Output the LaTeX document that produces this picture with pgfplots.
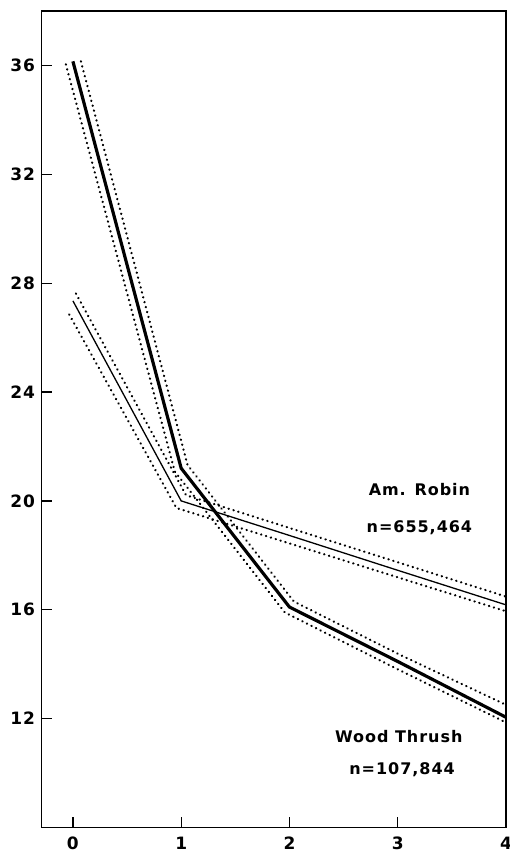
\documentclass[border=0pt]{standalone}
\usepackage{pgfplots}
\pgfplotsset{compat=1.18}
\usepackage{fontspec}
\newfontfamily\lbl[LetterSpace=6]{DejaVu Sans}

\begin{document}
\begin{tikzpicture}
\begin{axis}[
    name=ax,
    scale only axis,
    width=464.5bp, height=816.5bp,
    xmin=-0.29, xmax=4,
    ymin=8, ymax=38,
    xtick={0,1,2,3,4},
    ytick={12,16,20,24,28,32,36},
    xtick pos=left, ytick pos=left,
    tick align=inside,
    major tick length=10bp,
    tick style={line width=1.3pt, black},
    axis line style={line width=1.6pt},
    /pgf/number format/assume math mode=true,
    ticklabel style={font={\fontsize{17bp}{19bp}\selectfont\lbl\bfseries}},
    yticklabel style={xshift=-3bp},
    xticklabel style={yshift=-6bp},
    band/.style={line width=2.3pt, dash pattern=on 0.3pt off 4.8pt, line cap=round},
]
% Wood Thrush confidence band
\addplot[band] coordinates {(0.074,36.15) (1.059,21.32) (2.042,16.30) (3.029,14.33) (4.03,12.45)};
\addplot[band] coordinates {(-0.065,36.04) (0.941,21.08) (1.958,15.90) (2.971,13.87) (4.03,11.80)};
% Am. Robin confidence band
\addplot[band] coordinates {(0.028,27.62) (1.045,20.21) (4.02,16.46)};
\addplot[band] coordinates {(-0.034,26.85) (0.956,19.74) (4.02,15.92)};
% means
\addplot[line width=1.3pt] coordinates {(0,27.35) (1,20.0) (2,18.73) (3,17.45) (4,16.18)};
\addplot[line width=3.2pt] coordinates {(0,36.15) (1,21.2) (2,16.1) (3,14.1) (4,12.05)};

\node[font={\fontsize{16bp}{18bp}\selectfont\lbl\bfseries}] at (axis cs:3.2,20.41) {Am. Robin};
\node[font={\fontsize{16bp}{18bp}\selectfont\lbl\bfseries}] at (axis cs:3.2,19.03) {n=655,464};
\node[font={\fontsize{16bp}{18bp}\selectfont\lbl\bfseries}] at (axis cs:3.01,11.35) {Wood Thrush};
\node[font={\fontsize{16bp}{18bp}\selectfont\lbl\bfseries}] at (axis cs:3.04,10.13) {n=107,844};
\end{axis}
\pgfresetboundingbox
\path[use as bounding box] ([xshift=-41.5bp,yshift=-26.5bp]ax.south west) rectangle ([xshift=4bp,yshift=11bp]ax.north east);
\end{tikzpicture}
\end{document}
